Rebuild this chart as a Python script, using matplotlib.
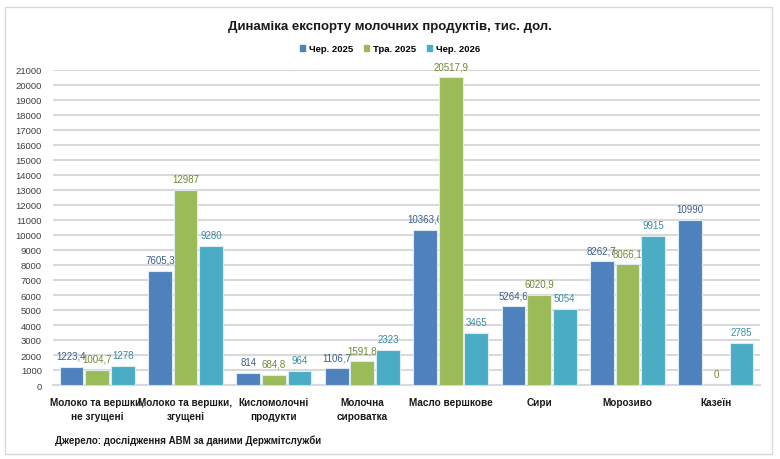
import numpy as np
import matplotlib.pyplot as plt
from matplotlib.patches import Rectangle

categories = ['Молоко та вершки,\nне згущені', 'Молоко та вершки,\nзгущені', 'Кисломолочні\nпродукти',
              'Молочна\nсироватка', 'Масло вершкове', 'Сири', 'Морозиво', 'Казеїн']
series_names = ['Чер. 2025', 'Тра. 2025', 'Чер. 2026']
cher_2025 = [1223.4, 7605.3, 814, 1106.7, 10363.6, 5264.6, 8262.7, 10990]
tra_2025 = [1004.7, 12987, 684.8, 1591.8, 20517.9, 6020.9, 8066.1, 0]
cher_2026 = [1278, 9280, 964, 2323, 3465, 5054, 9915, 2785]

colors = ['#4F81BD', '#9BBB59', '#4BACC6']
label_colors = ['#3B5E8C', '#6E8A35', '#3A8CA3']

plt.rcParams['font.family'] = ['Liberation Sans', 'DejaVu Sans']

fig = plt.figure(figsize=(7.8, 4.6), dpi=100)
fig.patches.append(Rectangle((5 / 780, 1 - 455 / 460), 767 / 780, 447 / 460, transform=fig.transFigure,
                             fill=False, edgecolor='#D9D9D9', linewidth=1))
ax = fig.add_axes([53 / 780, 1 - 386 / 460, 707 / 780, 315 / 460])

x = np.arange(len(categories))
w = 0.27
offs = [-0.29, 0, 0.29]
for vals, off, c, lc in zip([cher_2025, tra_2025, cher_2026], offs, colors, label_colors):
    bars = ax.bar(x + off, vals, w, color=c, edgecolor='#DDEBF2', linewidth=0.8, zorder=3)
    for b, v in zip(bars, vals):
        txt = f'{v:g}'.replace('.', ',')
        ax.text(b.get_x() + b.get_width() / 2, v + 400, txt, ha='center', va='bottom',
                fontsize=7, color=lc)

ax.set_xlim(-0.5, len(categories) - 0.5)
ax.set_ylim(0, 21000)
ax.set_yticks(np.arange(0, 21001, 1000))
ax.yaxis.grid(True, color='#D9D9D9', linewidth=1.5, zorder=0)
ax.set_axisbelow(True)
for s in ['top', 'right', 'left']:
    ax.spines[s].set_visible(False)
ax.spines['bottom'].set_color('#D9D9D9')
ax.spines['bottom'].set_linewidth(1.5)
ax.tick_params(axis='y', length=0, labelsize=6.8, labelcolor='#404040', pad=8)
ax.tick_params(axis='x', length=0, pad=9)
ax.set_xticks(x)
ax.set_xticklabels(categories, fontsize=7.2, fontweight='bold', color='#1a1a1a', linespacing=1.5)

fig.text(0.5, 1 - 27 / 460, 'Динаміка експорту молочних продуктів, тис. дол.', ha='center', va='center',
         fontsize=9.5, fontweight='bold', color='#1a1a1a')

handles = [Rectangle((0, 0), 1, 1, color=c) for c in colors]
fig.legend(handles, series_names, loc='center', bbox_to_anchor=(0.5, 1 - 50 / 460), ncol=3, frameon=False,
           handlelength=0.5, handleheight=0.6, handletextpad=0.4, columnspacing=1.2,
           prop={'weight': 'bold', 'size': 6.8})

fig.text(55 / 780, 1 - 441 / 460, 'Джерело: дослідження АВМ за даними Держмітслужби', ha='left', va='center',
         fontsize=7, fontweight='bold', color='#1a1a1a')

fig.savefig('out.png', dpi=100)
